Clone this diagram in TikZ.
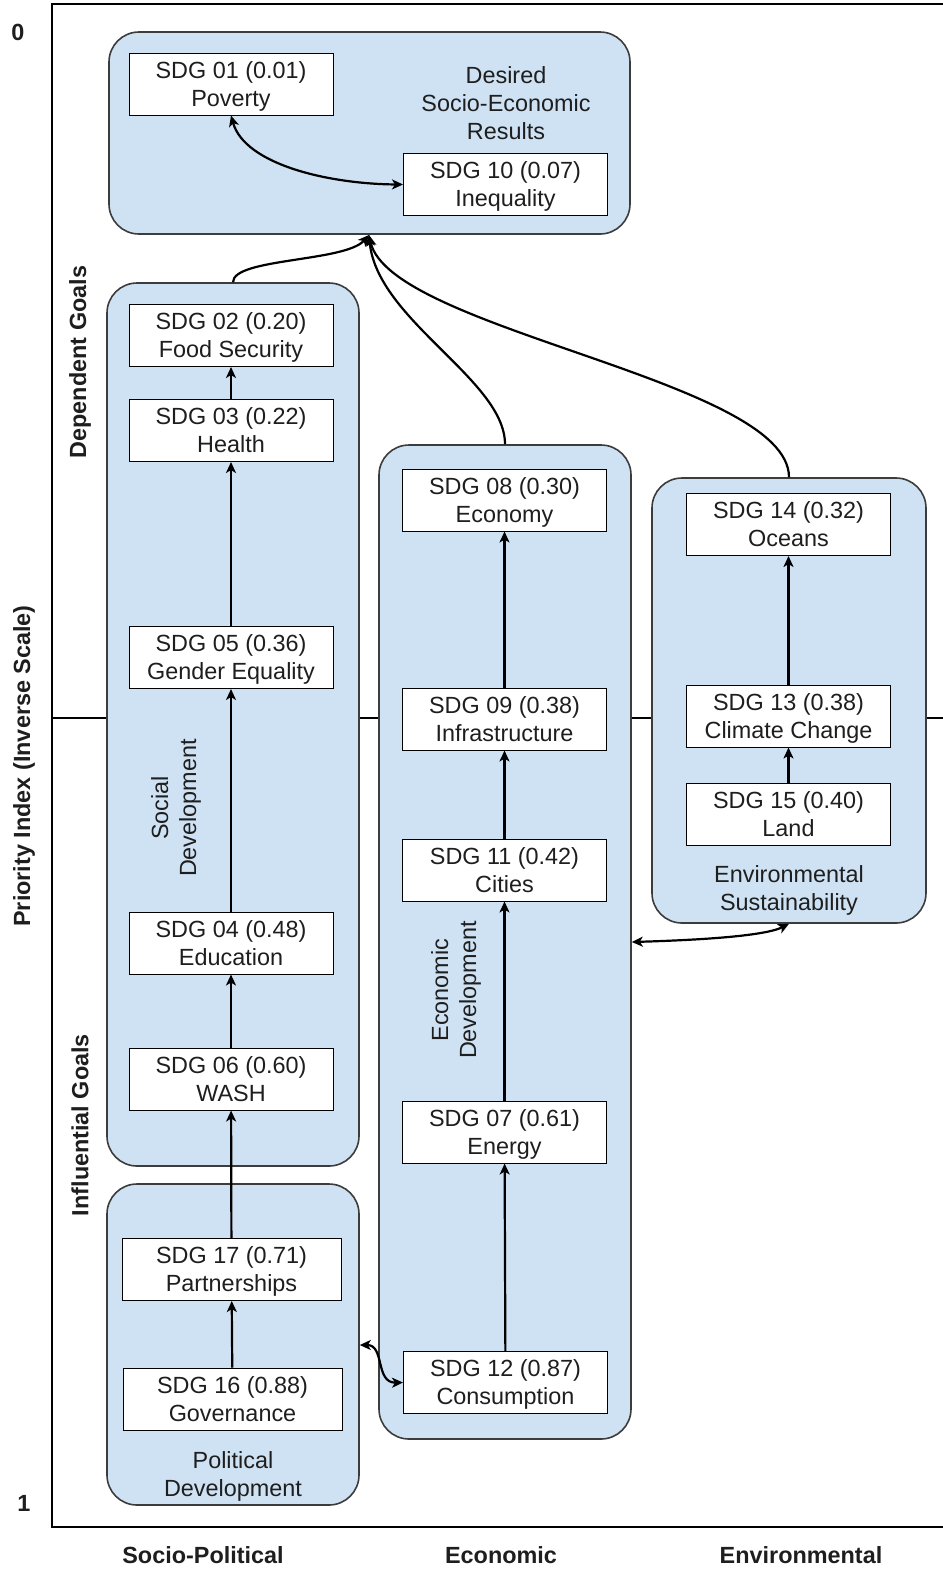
\documentclass[tikz,border=0pt]{standalone}
\usepackage{fontspec}
\setmainfont{Liberation Sans}
\usetikzlibrary{arrows.meta}
\definecolor{groupfill}{HTML}{CFE2F3}
\definecolor{groupline}{HTML}{3C3C3C}
\definecolor{ink}{HTML}{1E1E1E}
\begin{document}
\begin{tikzpicture}[x=0.5pt,y=-0.5pt,
  every node/.style={text=ink},
  font=\fontsize{11.7}{14}\selectfont,
  group/.style={draw=groupline, line width=0.8pt, fill=groupfill, rounded corners=15pt, inner sep=0pt},
  goal/.style={draw=black, line width=0.5pt, fill=white, align=center, minimum width=102pt, minimum height=31pt, inner sep=0pt, text height=24pt, text depth=2pt},
  widegoal/.style={goal, minimum width=109.5pt},
  lbl/.style={align=center, inner sep=0pt},
  axislbl/.style={font=\fontsize{11.7}{14}\selectfont\bfseries, inner sep=0pt},
  tip/.tip={Stealth[length=5.5pt,width=5pt,inset=1.5pt]},
  link/.style={line width=1.1pt, -tip},
  both/.style={line width=1.1pt, tip-tip}]
\useasboundingbox (0,0) rectangle (943,1571);

% axes frame and the mid-scale line
\draw[line width=1.4pt] (52,718) -- (943,718);
\draw[line width=1pt] (943,4) -- (52,4) -- (52,1527) -- (943,1527);

% axis labels
\node[axislbl] (zero) at (18,32) {0};
\node[axislbl] (one) at (24,1503) {1};
\node[axislbl, rotate=90] (yaxis) at (24,766) {Priority Index (Inverse Scale)};
\node[axislbl, rotate=90] (dep) at (80,362) {Dependent Goals};
\node[axislbl, rotate=90] (infl) at (80,1125) {Influential Goals};
\node[axislbl] (colsp) at (203,1555) {Socio-Political};
\node[axislbl] (colec) at (501,1555) {Economic};
\node[axislbl] (colen) at (801,1555) {Environmental};

% group panels
\node[group, minimum width=260.5pt, minimum height=101pt] (gtop) at (369.5,133) {};
\node[group, minimum width=126pt, minimum height=441.5pt] (gsoc) at (233,724.5) {};
\node[group, minimum width=126pt, minimum height=160.5pt] (gpol) at (233,1344.5) {};
\node[group, minimum width=126pt, minimum height=497pt] (geco) at (505,942) {};
\node[group, minimum width=137pt, minimum height=222.5pt] (genv) at (789,700.5) {};

% group captions
\node[lbl] (captop) at (506,103) {Desired\\Socio-Economic\\Results};
\node[lbl, rotate=90] (capsoc) at (176,808) {Social\\Development};
\node[lbl] (cappol) at (233,1476) {Political\\Development};
\node[lbl, rotate=90] (capeco) at (456,990) {Economic\\Development};
\node[lbl] (capenv) at (789,890) {Environmental\\Sustainability};

% goals
\node[goal] (g01) at (231,84) {SDG 01 (0.01)\\Poverty};
\node[goal] (g10) at (505.5,184.5) {SDG 10 (0.07)\\Inequality};
\node[goal] (g02) at (231,335.5) {SDG 02 (0.20)\\Food Security};
\node[goal] (g03) at (231,430.5) {SDG 03 (0.22)\\Health};
\node[goal] (g05) at (231,657.5) {SDG 05 (0.36)\\Gender Equality};
\node[goal] (g04) at (231,943) {SDG 04 (0.48)\\Education};
\node[goal] (g06) at (231,1079) {SDG 06 (0.60)\\WASH};
\node[widegoal] (g17) at (231.5,1269.5) {SDG 17 (0.71)\\Partnerships};
\node[widegoal] (g16) at (232.5,1399) {SDG 16 (0.88)\\Governance};
\node[goal] (g08) at (504.5,500) {SDG 08 (0.30)\\Economy};
\node[goal] (g09) at (504.5,719) {SDG 09 (0.38)\\Infrastructure};
\node[goal] (g11) at (504.5,870) {SDG 11 (0.42)\\Cities};
\node[goal] (g07) at (504.5,1132) {SDG 07 (0.61)\\Energy};
\node[goal] (g12) at (505.5,1382.5) {SDG 12 (0.87)\\Consumption};
\node[goal] (g14) at (788.5,524.5) {SDG 14 (0.32)\\Oceans};
\node[goal] (g13) at (788.5,716) {SDG 13 (0.38)\\Climate Change};
\node[goal] (g15) at (788.5,814.5) {SDG 15 (0.40)\\Land};

% chains within the groups
\draw[link] (g03) -- (g02);
\draw[link] (g05) -- (g03);
\draw[link] (g04) -- (g05);
\draw[link] (g06) -- (g04);
\draw[link] (g17) -- (g06);
\draw[link] (g16) -- (g17);
\draw[link] (g09) -- (g08);
\draw[link] (g11) -- (g09);
\draw[link] (g07) -- (g11);
\draw[link] (g12) -- (g07);
\draw[link] (g13) -- (g14);
\draw[link] (g15) -- (g13);

% two-way links
\draw[both] (g01.south) .. controls (245,165) and (330,184) .. (g10.west);
\draw[both] (gpol.east |- 0,1345) .. controls (385,1345) and (375,1383) .. (g12.west);
\draw[both] (geco.east |- 0,942) .. controls (700,940) and (765,936) .. (genv.south);

% groups feeding the desired results
\coordinate (hub) at (369,235);
\draw[link] (gsoc.north) .. controls (233,258) and (345,262) .. (hub);
\draw[link] (geco.north) .. controls (505,380) and (377,320) .. (hub);
\draw[link] (genv.north) .. controls (789,380) and (390,330) .. (hub);
\end{tikzpicture}
\end{document}
